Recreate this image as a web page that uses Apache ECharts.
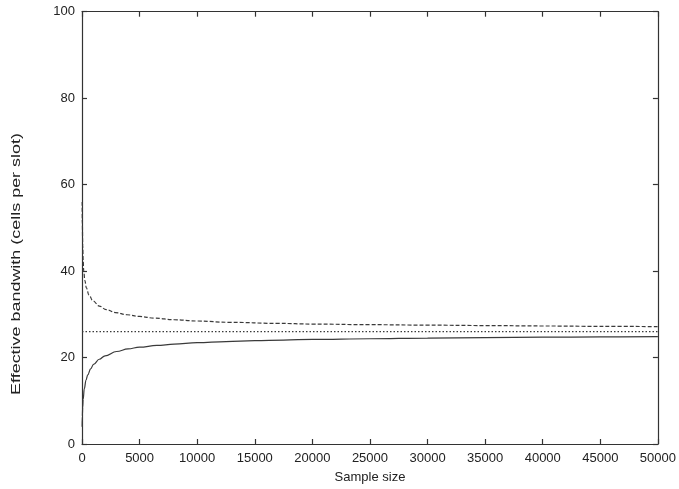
<!DOCTYPE html>
<html>
<head>
<meta charset="utf-8">
<script src="https://cdn.jsdelivr.net/npm/echarts@6/dist/echarts.min.js"></script>
<style>html,body{margin:0;padding:0;background:#fff;}#c{width:679px;height:489px;}</style>
</head>
<body>
<div id="c"></div>
<script>
// Sample sizes and effective bandwidth readings
const solidN   = [10, 30, 60, 100, 200, 350, 500, 750, 1000, 1500, 2000, 3000, 4000, 5000, 6500, 8000, 10000, 12500, 15000, 17500, 20000, 25000, 30000, 35000, 40000, 45000, 50000];
const solidV   = [4, 6.5, 8.5, 10.3, 12.8, 14.8, 16.0, 17.4, 18.4, 19.6, 20.4, 21.4, 22.0, 22.4, 22.8, 23.1, 23.45, 23.7, 23.9, 24.05, 24.2, 24.35, 24.5, 24.6, 24.7, 24.78, 24.85];
const dashedN  = [15, 30, 60, 100, 150, 250, 380, 600, 950, 1500, 2100, 2900, 3900, 5000, 6300, 8000, 10000, 12800, 17000, 20000, 25000, 30000, 35000, 40000, 45000, 50000];
const dashedV  = [56, 51, 46, 42.5, 40, 37.8, 36.1, 34.5, 33.1, 31.9, 31.1, 30.4, 29.9, 29.5, 29.1, 28.75, 28.45, 28.15, 27.9, 27.75, 27.6, 27.5, 27.4, 27.3, 27.22, 27.15];
const dottedN  = [0, 50000];
const dottedV  = [26, 26];
const xTitle = 'Sample size';
const yTitle = 'Effective bandwith (cells per slot)';

const pairs = (a, b) => a.map((v, i) => [v, b[i]]);
const lineCol = '#3a3a3a';
const axisCol = '#333';
const txtCol = '#222';
const font = 'Liberation Sans';

const chart = echarts.init(document.getElementById('c'), null, {renderer: 'canvas'});
const baseX = {
  type: 'value', min: 0, max: 50000, interval: 5000,
  axisLine: {show: true, onZero: false, lineStyle: {color: axisCol, width: 1.2}},
  axisTick: {show: true, inside: true, length: 5, lineStyle: {color: axisCol, width: 1.2}},
  splitLine: {show: false}
};
const baseY = {
  type: 'value', min: 0, max: 100, interval: 20,
  axisLine: {show: true, onZero: false, lineStyle: {color: axisCol, width: 1.2}},
  axisTick: {show: true, inside: true, length: 5, lineStyle: {color: axisCol, width: 1.2}},
  splitLine: {show: false}
};
chart.setOption({
  animation: false,
  backgroundColor: '#fff',
  grid: {left: 82, right: 19.5, top: 11.7, bottom: 41.3, containLabel: false},
  xAxis: [
    Object.assign({}, baseX, {
      position: 'bottom',
      axisLabel: {color: txtCol, fontFamily: font, fontSize: 13, margin: 8, formatter: v => String(v)},
      name: xTitle, nameLocation: 'middle', nameGap: 27,
      nameTextStyle: {color: txtCol, fontFamily: font, fontSize: 13}
    }),
    Object.assign({}, baseX, {position: 'top', axisLabel: {show: false}})
  ],
  yAxis: [
    Object.assign({}, baseY, {
      position: 'left',
      axisLabel: {color: txtCol, fontFamily: font, fontSize: 13, margin: 7}
    }),
    Object.assign({}, baseY, {position: 'right', axisLabel: {show: false}})
  ],
  graphic: [{
    type: 'text', x: 16, y: 264, rotation: Math.PI / 2, scaleX: 1.38,
    style: {text: yTitle, fill: txtCol, font: '13px "Liberation Sans"', align: 'center', verticalAlign: 'middle'}
  }],
  series: [
    {type: 'line', data: pairs(solidN, solidV), xAxisIndex: 0, yAxisIndex: 0, showSymbol: false, smooth: 0.4, smoothMonotone: 'x',
     lineStyle: {color: lineCol, width: 1.2, type: 'solid'}},
    {type: 'line', data: pairs(dashedN, dashedV), xAxisIndex: 0, yAxisIndex: 0, showSymbol: false, smooth: 0.4, smoothMonotone: 'x',
     lineStyle: {color: lineCol, width: 1.2, type: [4, 2]}},
    {type: 'line', data: pairs(dottedN, dottedV), xAxisIndex: 0, yAxisIndex: 0, showSymbol: false,
     lineStyle: {color: lineCol, width: 1.2, type: [1.5, 2]}}
  ]
});
</script>
</body>
</html>
